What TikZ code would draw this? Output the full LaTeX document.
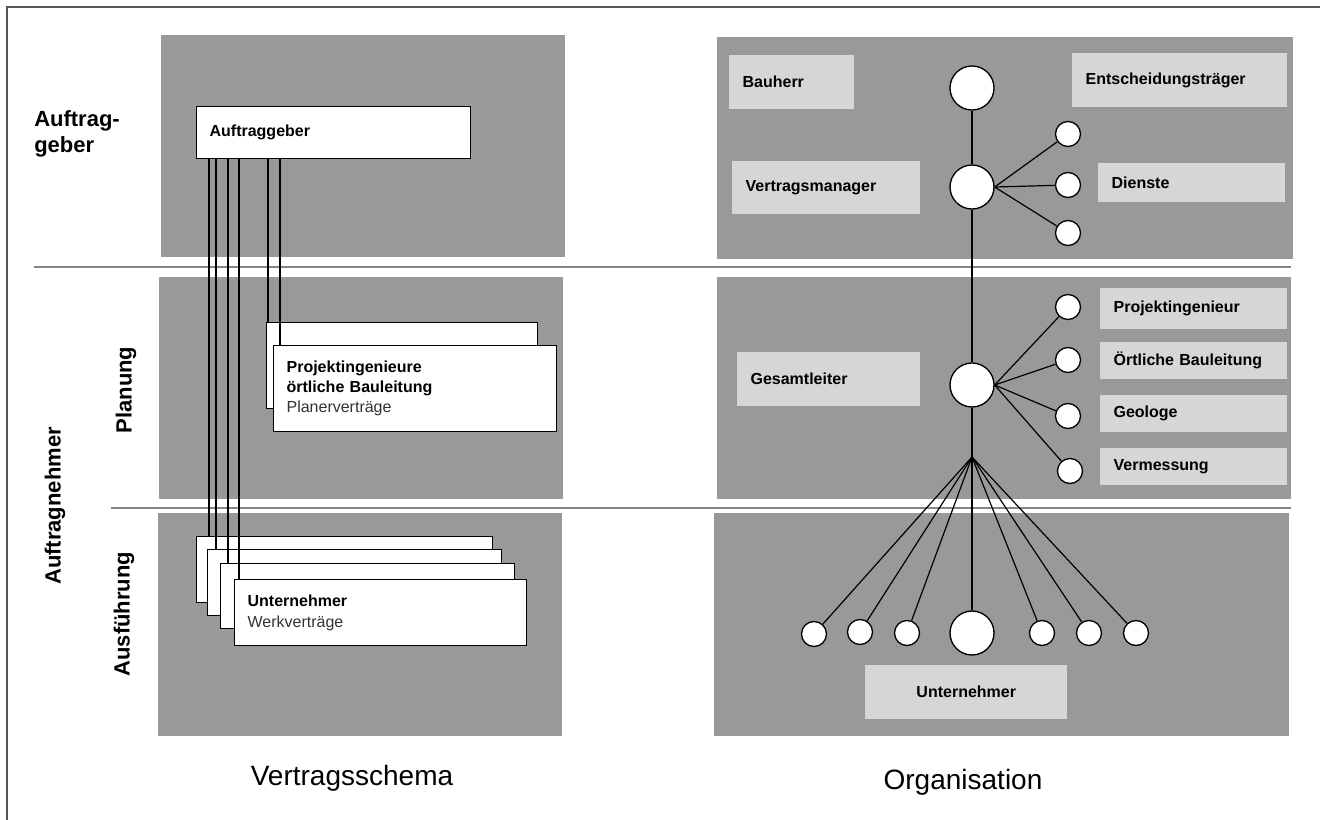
\documentclass[tikz,border=0pt]{standalone}
\usepackage{fontspec}
\setmainfont{Liberation Sans}
\definecolor{panel}{HTML}{999999}
\definecolor{light}{HTML}{D6D6D6}
\definecolor{sepc}{HTML}{858585}
\definecolor{framec}{HTML}{555555}
\definecolor{subtxt}{HTML}{333333}
\begin{document}
\begin{tikzpicture}[x=0.75pt,y=-0.75pt,
  lbox/.style={fill=light, draw=none, anchor=north west, inner xsep=10pt, inner ysep=0pt,
    font=\bfseries\fontsize{12}{14}\selectfont, align=left},
  wbox/.style={fill=white, draw=black, line width=0.9pt, anchor=north west, inner xsep=9.75pt,
    inner ysep=0pt, font=\fontsize{12}{15}\selectfont, align=left},
  bigc/.style={circle, fill=white, draw=black, line width=1pt, inner sep=0pt, minimum size=33pt},
  smallc/.style={circle, fill=white, draw=black, line width=1pt, inner sep=0pt, minimum size=18.75pt},
  conn/.style={draw=black, line width=0.9pt},
  sepline/.style={draw=sepc, line width=1.4pt},
  sidelabel/.style={font=\bfseries\fontsize{16.5}{20}\selectfont, inner sep=0pt},
  titlelabel/.style={font=\fontsize{21}{25}\selectfont, inner sep=0pt}
]
\useasboundingbox (0,0) rectangle (1320,820);
% frame
\draw[framec, line width=1.5pt] (7,820) -- (7,7) -- (1320,7);
% panels
\fill[panel] (161,35) rectangle (565,257);
\fill[panel] (159,277) rectangle (563,499);
\fill[panel] (158,513) rectangle (562,736);
\fill[panel] (717,37) rectangle (1293,259);
\fill[panel] (717,277) rectangle (1291,499);
\fill[panel] (714,513) rectangle (1289,736);
% separators
\draw[sepline] (34,267) -- (1291,267);
\draw[sepline] (111,508) -- (1291,508);
% side labels
\node[sidelabel, anchor=west, align=left] (lag) at (34,134) {Auftrag-\\geber};
\node[sidelabel, rotate=90] (lan) at (55,506) {Auftragnehmer};
\node[sidelabel, rotate=90] (lpl) at (126,390) {Planung};
\node[sidelabel, rotate=90] (lau) at (124,614) {Ausführung};
% titles
\node[titlelabel] (tv) at (352,778) {Vertragsschema};
\node[titlelabel] (to) at (963,782) {Organisation};
% ---- left: contract scheme
\node[wbox, text width=186pt, minimum height=39pt, font=\bfseries\fontsize{12}{15}\selectfont] (ag) at (196,106) {Auftraggeber};
\node[wbox, minimum width=203.25pt, minimum height=64.5pt] (pb) at (266,322) {};
\node[wbox, text width=192.75pt, minimum height=64.5pt] (pf) at (273,345)
  {\textbf{Projektingenieure}\\\textbf{örtliche Bauleitung}\\\textcolor{subtxt}{Planerverträge}};
\node[wbox, minimum width=222pt, minimum height=49.5pt] (u1) at (196,536) {};
\node[wbox, minimum width=220.5pt, minimum height=49.5pt] (u2) at (207,549) {};
\node[wbox, minimum width=220.5pt, minimum height=48.75pt] (u3) at (220,563) {};
\node[wbox, text width=199.5pt, minimum height=49.5pt, font=\fontsize{12}{16}\selectfont] (u4) at (234,579)
  {\textbf{Unternehmer}\\\textcolor{subtxt}{Werkverträge}};
\coordinate (c1) at (209,0);
\coordinate (c2) at (216,0);
\coordinate (c3) at (228,0);
\coordinate (c4) at (239,0);
\coordinate (c5) at (268,0);
\coordinate (c6) at (280,0);
\draw[conn] (ag.south -| c1) -- (c1 |- u1.north);
\draw[conn] (ag.south -| c2) -- (c2 |- u2.north);
\draw[conn] (ag.south -| c3) -- (c3 |- u3.north);
\draw[conn] (ag.south -| c4) -- (c4 |- u4.north);
\draw[conn] (ag.south -| c5) -- (c5 |- pb.north);
\draw[conn] (ag.south -| c6) -- (c6 |- pf.north);
% ---- right: organisation
\node[lbox, text width=73.75pt, minimum height=40.5pt] (bh) at (729,55) {Bauherr};
\node[lbox, text width=141.25pt, minimum height=40.5pt] (et) at (1072,53) {Entscheidungsträger};
\node[lbox, text width=121pt, minimum height=39.75pt] (vmt) at (732,161) {Vertragsmanager};
\node[lbox, text width=120.25pt, minimum height=29.25pt] (di) at (1098,163) {Dienste};
\node[lbox, text width=120.25pt, minimum height=30.75pt] (pi) at (1100,288) {Projektingenieur};
\node[lbox, text width=120.25pt, minimum height=27.75pt] (ob) at (1100,342) {Örtliche Bauleitung};
\node[lbox, text width=117.25pt, minimum height=40.5pt] (gst) at (737,352) {Gesamtleiter};
\node[lbox, text width=120.25pt, minimum height=27.75pt] (ge) at (1100,395) {Geologe};
\node[lbox, text width=120.25pt, minimum height=27.75pt] (ve) at (1100,448) {Vermessung};
\node[lbox, text width=131.5pt, minimum height=40.5pt, align=center] (un) at (865,665) {Unternehmer};
% circles
\node[bigc] (top) at (972,88) {};
\node[bigc] (vm) at (972,187) {};
\node[smallc] (d1) at (1068,134) {};
\node[smallc] (d2) at (1068,185) {};
\node[smallc] (d3) at (1068,233) {};
\node[bigc] (gl) at (972,385) {};
\node[smallc] (p1) at (1068,307) {};
\node[smallc] (p2) at (1068,360) {};
\node[smallc] (p3) at (1068,416) {};
\node[smallc] (p4) at (1070,471) {};
\coordinate (fan) at (972,457);
\node[smallc] (b1) at (814,634) {};
\node[smallc] (b2) at (860,632) {};
\node[smallc] (b3) at (907,633) {};
\node[bigc] (bb) at (972,633) {};
\node[smallc] (b5) at (1042,633) {};
\node[smallc] (b6) at (1089,633) {};
\node[smallc] (b7) at (1136,633) {};
% connectors
\draw[conn] (top) -- (vm);
\draw[conn] (vm) -- (gl);
\draw[conn] (gl) -- (fan);
\draw[conn] (fan) -- (bb);
\draw[conn] (vm.east) -- (d1);
\draw[conn] (vm.east) -- (d2);
\draw[conn] (vm.east) -- (d3);
\draw[conn] (gl.east) -- (p1);
\draw[conn] (gl.east) -- (p2);
\draw[conn] (gl.east) -- (p3);
\draw[conn] (gl.east) -- (p4);
\foreach \b in {b1,b2,b3,b5,b6,b7} { \draw[conn] (fan) -- (\b); }
\end{tikzpicture}
\end{document}
